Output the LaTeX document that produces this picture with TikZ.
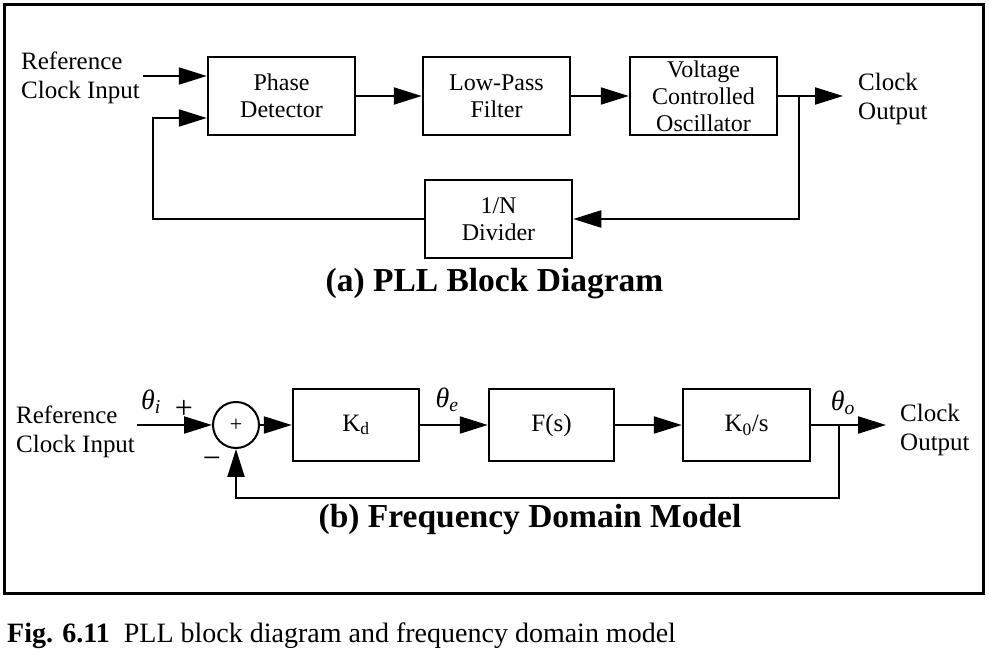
\documentclass[tikz,border=0pt]{standalone}
\usepackage{fontspec}
\setmainfont{Liberation Serif}
\usetikzlibrary{arrows.meta}
\tikzset{
    block/.style={draw,line width=2.5pt,minimum width=147pt,minimum height=78pt,align=center,inner sep=0pt,font=\fontsize{24}{27}\selectfont},
    fblock/.style={block,minimum width=126pt,minimum height=72pt,font=\fontsize{25}{28}\selectfont},
    sig/.style={line width=2.2pt,-{Triangle[length=28pt,width=17pt]}},
    lbl/.style={align=left,inner sep=0pt,font=\fontsize{25}{28.5}\selectfont},
    ang/.style={inner sep=0pt,font=\fontsize{28}{30}\selectfont\itshape},
    sgn/.style={inner sep=0pt,font=\fontsize{32}{34}\selectfont},
    ttl/.style={inner sep=0pt,font=\fontsize{33.5}{36}\selectfont\bfseries}
}
\begin{document}
\begin{tikzpicture}[x=1pt,y=-1pt]
        \useasboundingbox (0,0) rectangle (989,652);
        %% frame
        \draw[line width=3pt] (4,5) rectangle (983,593);
        %% (a) blocks
        \node[block] (pd) at (281.5,96) {Phase\\Detector};
        \node[block] (lpf) at (496.5,96) {Low-Pass\\Filter};
        \node[block] (vco) at (703.5,96) {Voltage\\Controlled\\Oscillator};
        \node[block] (div) at (498.5,219) {1/N\\Divider};
        \node[lbl,anchor=west] (refa) at (21,78) {Reference\\Clock Input};
        \node[lbl,anchor=west] (outa) at (858,99) {Clock\\Output};
        \coordinate (ina) at (143,76);
        \coordinate (fba) at (153,118);
        \coordinate (tapa) at (799,96);
        \coordinate (enda) at (843,96);
        %% (a) signals
        \draw[sig] (ina) -- (ina -| pd.west);
        \draw[sig] (pd.east) -- (lpf.west);
        \draw[sig] (lpf.east) -- (vco.west);
        \draw[sig] (vco.east) -- (enda);
        \draw[sig] (tapa) |- (div.east);
        \draw[sig] (div.west) -| (fba) -- (fba -| pd.west);
        \node[ttl,anchor=base] (ttla) at (494.5,292) {(a) PLL Block Diagram};
        %% (b) blocks
        \node[draw,circle,line width=2pt,minimum size=46pt,inner sep=0pt,font=\fontsize{22}{24}\selectfont] (sum) at (236,425) {+};
        \node[fblock] (kd) at (356,425) {K\textsubscript{d}};
        \node[fblock,minimum width=125pt] (fs) at (551.5,425) {F(s)};
        \node[fblock,minimum width=127pt] (ko) at (746.5,425) {K\textsubscript{0}/s};
        \node[lbl,anchor=west] (refb) at (16,432) {Reference\\Clock Input};
        \node[lbl,anchor=west] (outb) at (900,430) {Clock\\Output};
        \coordinate (inb) at (137,425);
        \coordinate (tapb) at (839,425);
        \coordinate (endb) at (886,425);
        \coordinate (fbb) at (839,498);
        %% (b) signals
        \draw[sig] (inb) -- (sum.west);
        \draw[sig] (sum.east) -- (kd.west);
        \draw[sig] (kd.east) -- (fs.west);
        \draw[sig] (fs.east) -- (ko.west);
        \draw[sig] (ko.east) -- (endb);
        \draw[sig] (tapb) -- (fbb) -| (sum.south);
        %% angles and signs
        \node[ang] (thi) at (151,402) {θ\textsubscript{i}};
        \node[ang] (the) at (447,400) {θ\textsubscript{e}};
        \node[ang] (tho) at (843,403) {θ\textsubscript{o}};
        \node[sgn] (plus) at (184,409) {+};
        \node[sgn] (minus) at (212,463) {−};
        \node[ttl,anchor=base] (ttlb) at (530,528) {(b) Frequency Domain Model};
        %% caption
        \node[inner sep=0pt,anchor=base west,font=\fontsize{28}{31}\selectfont] (cap) at (7,642) {\textbf{Fig. 6.11}\hskip0.5em PLL block diagram and frequency domain model};
    \end{tikzpicture}
\end{document}
